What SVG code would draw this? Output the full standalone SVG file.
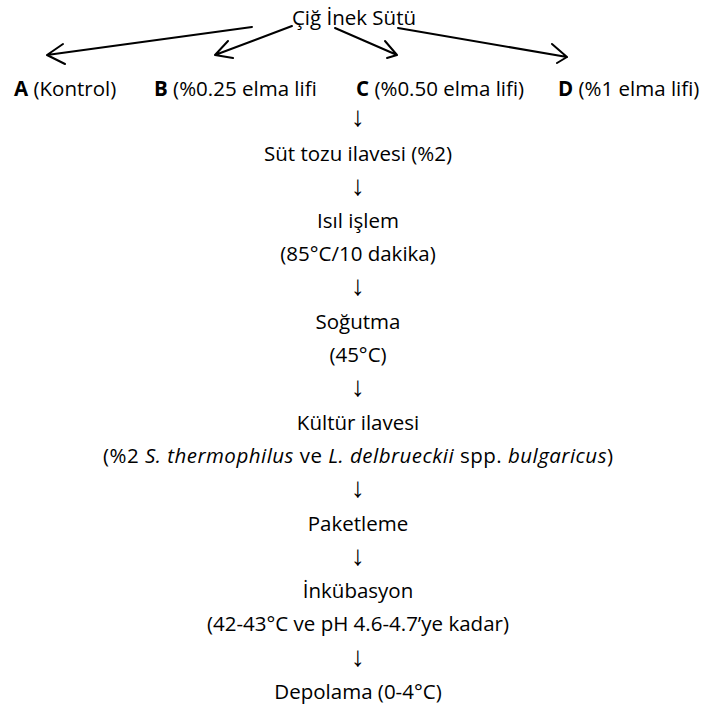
<svg xmlns="http://www.w3.org/2000/svg" width="705" height="709" viewBox="0 0 705 709">
<style>
text{font-family:"Open Sans","Noto Sans","DejaVu Sans",sans-serif;font-size:20.5px;fill:#000}
.c{text-anchor:middle}
.b{font-weight:bold}
.i{font-style:italic}
.ar{font-family:"Liberation Sans","DejaVu Sans",sans-serif;font-size:28px;font-weight:normal;fill:#000}
.ln{stroke:#000;stroke-width:2;fill:none;stroke-linecap:round;stroke-linejoin:round}
</style>
<rect width="705" height="709" fill="#fff"/>
<g id="connectors">
<path class="ln" d="M252,27 L47,55 M63,44 L47,55 L65,64"/>
<path class="ln" d="M292,26 L215,55 M228,41 L215,55 L233,58"/>
<path class="ln" d="M335,28 L397,55 M385,41 L397,55 L387,58"/>
<path class="ln" d="M398,28 L567,57 M552,44 L567,57 L557,63"/>
</g>
<g id="root"><text class="c" x="354" y="25">Çiğ İnek Sütü</text></g>
<g id="A"><text x="14" y="96"><tspan class="b">A</tspan> (Kontrol)</text></g>
<g id="B"><text x="154" y="96"><tspan class="b">B</tspan> (%0.25 elma lifi</text></g>
<g id="C"><text x="356" y="96"><tspan class="b">C</tspan> (%0.50 elma lifi)</text></g>
<g id="D"><text x="558" y="96"><tspan class="b">D</tspan> (%1 elma lifi)</text></g>
<g id="arrows">
<text class="c ar" x="358" y="126">↓</text>
<text class="c ar" x="358" y="195">↓</text>
<text class="c ar" x="358" y="295">↓</text>
<text class="c ar" x="358" y="396">↓</text>
<text class="c ar" x="358" y="497">↓</text>
<text class="c ar" x="358" y="565">↓</text>
<text class="c ar" x="358" y="666">↓</text>
</g>
<g id="sut-tozu"><text class="c" x="358" y="161">Süt tozu ilavesi (%2)</text></g>
<g id="isil"><text class="c" x="358" y="228">Isıl işlem</text><text class="c" x="358" y="261">(85°C/10 dakika)</text></g>
<g id="sogutma"><text class="c" x="358" y="329">Soğutma</text><text class="c" x="358" y="362">(45°C)</text></g>
<g id="kultur"><text class="c" x="358" y="430">Kültür ilavesi</text><text class="c" x="358" y="463" textLength="510" lengthAdjust="spacing">(%2 <tspan class="i">S. thermophilus</tspan> ve <tspan class="i">L. delbrueckii</tspan> spp. <tspan class="i">bulgaricus</tspan>)</text></g>
<g id="paketleme"><text class="c" x="358" y="531">Paketleme</text></g>
<g id="inkubasyon"><text class="c" x="358" y="598">İnkübasyon</text><text class="c" x="358" y="631">(42-43°C ve pH 4.6-4.7’ye kadar)</text></g>
<g id="depolama"><text class="c" x="358" y="699">Depolama (0-4°C)</text></g>
</svg>
